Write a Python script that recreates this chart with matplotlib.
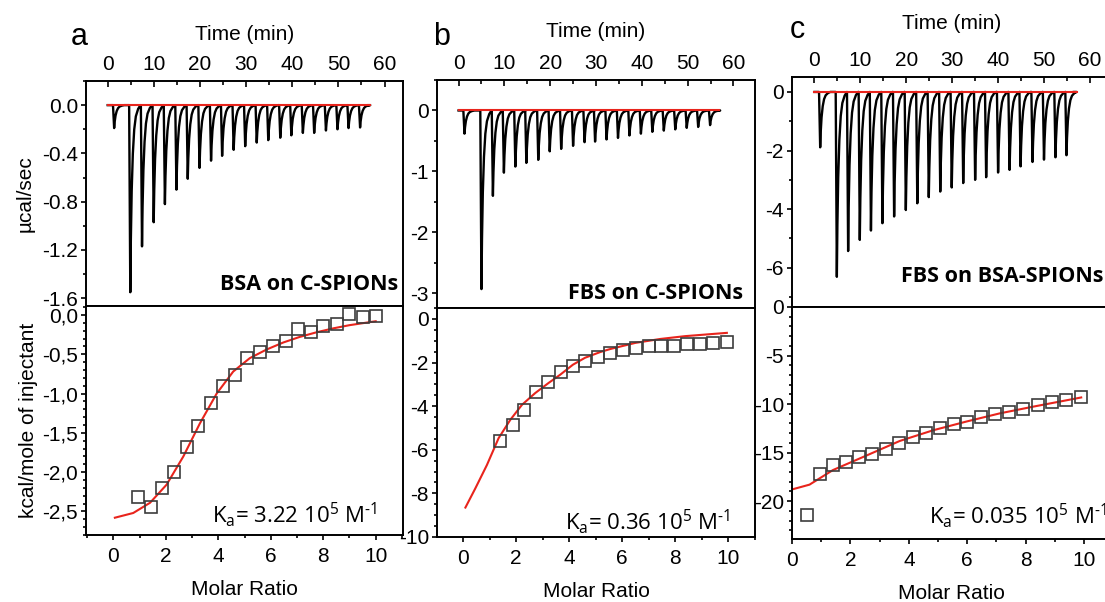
import matplotlib
matplotlib.use('Agg')
import matplotlib.pyplot as plt
from matplotlib.ticker import MultipleLocator, FuncFormatter

plt.rcParams['font.family'] = ['Liberation Sans', 'DejaVu Sans']
plt.rcParams['axes.unicode_minus'] = False
plt.rcParams['mathtext.fontset'] = 'custom'
plt.rcParams['mathtext.rm'] = 'Open Sans'

# raw ITC traces: injection times (min) and peak depths (ucal/sec)
time_a = [1.4, 4.9, 7.44, 9.97, 12.4, 14.9, 17.35, 19.9, 22.4, 24.8, 27.3, 29.8, 32.3,
          34.8, 37.4, 39.8, 42.3, 44.75, 47.3, 49.8, 52.2, 54.7]
depth_a = [0.19, 1.55, 1.17, 0.97, 0.82, 0.70, 0.61, 0.52, 0.46, 0.42, 0.37, 0.34, 0.31,
           0.29, 0.27, 0.25, 0.23, 0.23, 0.21, 0.20, 0.19, 0.185]
time_b = [1.3, 5.0, 7.5, 9.9, 12.4, 14.8, 17.4, 19.9, 22.4, 25.0, 27.5, 29.8, 32.3,
          34.8, 37.3, 39.8, 42.3, 44.8, 47.3, 49.8, 52.3, 54.9]
depth_b = [0.38, 2.93, 1.40, 1.02, 0.92, 0.86, 0.81, 0.67, 0.63, 0.58, 0.52, 0.51, 0.475,
           0.45, 0.41, 0.38, 0.35, 0.33, 0.31, 0.285, 0.27, 0.24]
time_c = [1.24, 4.87, 7.33, 9.87, 12.3, 14.8, 17.35, 19.9, 22.4, 24.9, 27.4, 29.9, 32.4,
          35.0, 37.4, 40.0, 42.5, 44.9, 47.5, 50.0, 52.5, 54.9]
depth_c = [1.89, 6.31, 5.43, 5.05, 4.73, 4.48, 4.25, 4.03, 3.80, 3.59, 3.40, 3.26, 3.11,
           3.00, 2.91, 2.75, 2.66, 2.54, 2.39, 2.31, 2.23, 2.16]
baseline_end = [56.9, 56.9, 57.1]

# integrated heats (kcal/mole of injectant) vs molar ratio
ratio_a = [0.95, 1.42, 1.87, 2.31, 2.80, 3.24, 3.71, 4.19, 4.64, 5.11, 5.59, 6.07, 6.57,
           7.05, 7.52, 8.00, 8.51, 9.00, 9.53, 10.0]
heat_a = [-2.32, -2.44, -2.20, -2.00, -1.68, -1.41, -1.12, -0.90, -0.77, -0.55, -0.47,
          -0.39, -0.33, -0.18, -0.22, -0.14, -0.11, 0.01, -0.03, -0.01]
fit_ratio_a = [0.06, 0.76, 1.4, 2.03, 2.67, 3.3, 3.94, 4.57, 5.2, 5.84, 6.48, 7.1, 7.75,
               8.39, 9.0, 10.0]
fit_heat_a = [-2.58, -2.52, -2.39, -2.16, -1.80, -1.38, -1.00, -0.72, -0.55, -0.44,
              -0.35, -0.28, -0.22, -0.17, -0.13, -0.08]

ratio_b = [1.40, 1.87, 2.31, 2.76, 3.21, 3.69, 4.14, 4.60, 5.08, 5.55, 6.02, 6.50, 6.99,
           7.47, 7.94, 8.43, 8.91, 9.41, 9.94]
heat_b = [-5.58, -4.86, -4.17, -3.37, -2.91, -2.44, -2.15, -1.92, -1.73, -1.56, -1.43,
          -1.35, -1.26, -1.26, -1.23, -1.13, -1.13, -1.10, -1.06]
fit_ratio_b = [0.09, 0.46, 0.90, 1.34, 1.78, 2.22, 2.72, 3.22, 3.66, 4.14, 4.60, 5.17,
               5.55, 6.49, 7.43, 8.37, 9.31, 9.94]
fit_heat_b = [-8.65, -7.78, -6.70, -5.47, -4.63, -3.94, -3.40, -2.94, -2.56, -2.10,
              -1.78, -1.52, -1.38, -1.10, -0.92, -0.79, -0.70, -0.64]

ratio_c = [0.51, 0.97, 1.40, 1.86, 2.29, 2.75, 3.21, 3.66, 4.14, 4.60, 5.08, 5.54, 5.99,
           6.47, 6.96, 7.43, 7.91, 8.42, 8.90, 9.39, 9.89]
heat_c = [-21.4, -17.2, -16.3, -15.96, -15.5, -15.1, -14.66, -14.04, -13.4, -12.95, -12.5,
          -12.09, -11.8, -11.34, -11.06, -10.79, -10.55, -10.1, -9.83, -9.59, -9.32]
fit_ratio_c = [0.03, 0.6, 1.4, 2.55, 3.69, 4.83, 5.97, 7.11, 8.25, 9.9]
fit_heat_c = [-18.77, -18.3, -16.8, -15.3, -13.8, -12.7, -11.8, -10.96, -10.27, -9.32]

letters = ['a', 'b', 'c']
titles = ['BSA on C-SPIONs', 'FBS on C-SPIONs', 'FBS on BSA-SPIONs']
ka_texts = ['3.22', '0.36', '0.035']

# normalised shape of one injection peak (time offset, fraction of depth)
peak_dt = [-0.25, 0.0, 0.12, 0.3, 0.55, 0.85, 1.2, 1.7, 2.2]
peak_frac = [0.0, 1.0, 0.72, 0.46, 0.26, 0.13, 0.06, 0.02, 0.0]

W, H = 1105, 602
FS = 15
fig = plt.figure(figsize=(W / 100, H / 100), dpi=100)


def box(x0, y0, x1, y1):
    return [x0 / W, 1 - y1 / H, (x1 - x0) / W, (y1 - y0) / H]


def style(ax, top):
    for s in ax.spines.values():
        s.set_linewidth(1.4)
    ax.tick_params(which='both', width=1.2, labelsize=FS)
    if top:
        ax.xaxis.tick_top()
        ax.xaxis.set_label_position('top')
        ax.tick_params(axis='x', which='major', direction='in', length=4, pad=5)
        ax.tick_params(axis='x', which='minor', direction='in', length=3)
    else:
        ax.tick_params(axis='x', which='major', direction='out', length=3.5, pad=5)
        ax.tick_params(axis='x', which='minor', direction='out', length=2)
    ax.tick_params(axis='y', which='major', direction='out', length=3.3, pad=2.5)
    ax.tick_params(axis='y', which='minor', direction='out', length=2)


def trace(times, depths):
    t, y = [0.0], [0.0]
    for tp, d in zip(times, depths):
        for dt, f in zip(peak_dt, peak_frac):
            t.append(tp + dt)
            y.append(-d * f)
    t.append(56.5)
    y.append(0.0)
    return t, y


panels = [
    dict(top=(86, 81, 403, 306), bot=(86, 306, 403, 535), txlim=(-4.7, 64.0),
         tylim=(-1.664, 0.2), tymaj=0.4, tymin=0.2, bxlim=(-1.04, 11.04),
         bylim=(-2.8, 0.114), bymaj=0.5, bymin=0.1, times=time_a, depths=depth_a,
         ratio=ratio_a, heat=heat_a, fr=fit_ratio_a, fh=fit_heat_a,
         tfmt=lambda v, p: '%.1f' % v,
         bfmt=lambda v, p: ('%.1f' % v).replace('.', ','),
         letter_xy=(79, 45), title_xy=(0.984, 0.071), ka_xy=(0.918, 0.052), tpad=11),
    dict(top=(437, 80, 755, 308), bot=(437, 308, 755, 537), txlim=(-4.7, 64.7),
         tylim=(-3.24, 0.5), tymaj=1, tymin=0.5, bxlim=(-0.98, 11.0),
         bylim=(-10, 0.5), bymaj=2, bymin=0.5, times=time_b, depths=depth_b,
         ratio=ratio_b, heat=heat_b, fr=fit_ratio_b, fh=fit_heat_b,
         tfmt=lambda v, p: '%d' % round(v), bfmt=lambda v, p: '%d' % round(v),
         letter_xy=(442, 45), title_xy=(0.962, 0.04), ka_xy=(0.921, 0.034), tpad=12),
    dict(top=(792, 77, 1111, 307), bot=(792, 307, 1111, 539), txlim=(-4.9, 64.6),
         tylim=(-7.34, 0.51), tymaj=2, tymin=1, bxlim=(0, 10.92),
         bylim=(-23.9, 0), bymaj=5, bymin=1, times=time_c, depths=depth_c,
         ratio=ratio_c, heat=heat_c, fr=fit_ratio_c, fh=fit_heat_c,
         tfmt=lambda v, p: '%d' % round(v), bfmt=lambda v, p: '%d' % round(v),
         letter_xy=(797, 38), title_xy=(0.975, 0.109), ka_xy=(0.987, 0.068), tpad=16),
]

for i, p in enumerate(panels):
    ax = fig.add_axes(box(*p['top']))
    t, y = trace(p['times'], p['depths'])
    ax.plot(t, y, color='black', lw=1.7)
    ax.plot([0, baseline_end[i]], [0, 0], color='#e8241c', lw=1.5)
    ax.set_xlim(*p['txlim'])
    ax.set_ylim(*p['tylim'])
    ax.xaxis.set_major_locator(MultipleLocator(10))
    ax.xaxis.set_minor_locator(MultipleLocator(5))
    ax.yaxis.set_major_locator(MultipleLocator(p['tymaj']))
    ax.yaxis.set_minor_locator(MultipleLocator(p['tymin']))
    ax.yaxis.set_major_formatter(FuncFormatter(p['tfmt']))
    style(ax, True)
    ax.set_xlabel('Time (min)', fontsize=FS, labelpad=p['tpad'])
    if i == 0:
        ax.set_ylabel('µcal/sec', fontsize=FS, labelpad=5)
    ax.text(*p['title_xy'], titles[i], transform=ax.transAxes, ha='right',
            va='baseline', fontsize=15.5, fontweight='bold', family='Open Sans')
    fig.text(p['letter_xy'][0] / W, 1 - p['letter_xy'][1] / H, letters[i],
             fontsize=22, ha='center', va='baseline')

    bx = fig.add_axes(box(*p['bot']))
    bx.plot(p['fr'], p['fh'], color='#e8241c', lw=1.5, zorder=2)
    bx.plot(p['ratio'], p['heat'], ls='none', marker='s', ms=9, mfc='none',
            mec='#3c3c3c', mew=1.2, zorder=3)
    bx.set_xlim(*p['bxlim'])
    bx.set_ylim(*p['bylim'])
    bx.xaxis.set_major_locator(MultipleLocator(2))
    bx.xaxis.set_minor_locator(MultipleLocator(1))
    bx.yaxis.set_major_locator(MultipleLocator(p['bymaj']))
    bx.yaxis.set_minor_locator(MultipleLocator(p['bymin']))
    bx.yaxis.set_major_formatter(FuncFormatter(p['bfmt']))
    style(bx, False)
    bx.set_xlabel('Molar Ratio', fontsize=FS, labelpad=10)
    if i == 0:
        bx.set_ylabel('kcal/mole of injectant', fontsize=FS, labelpad=3)
    ka = (r'K$_\mathregular{a}$= ' + ka_texts[i] + r' 10$^\mathregular{5}$ M$^{\text{-1}}$')
    bx.text(*p['ka_xy'], ka, transform=bx.transAxes, ha='right', va='baseline',
            fontsize=16, family='Open Sans')

fig.savefig('out.png', dpi=100)
